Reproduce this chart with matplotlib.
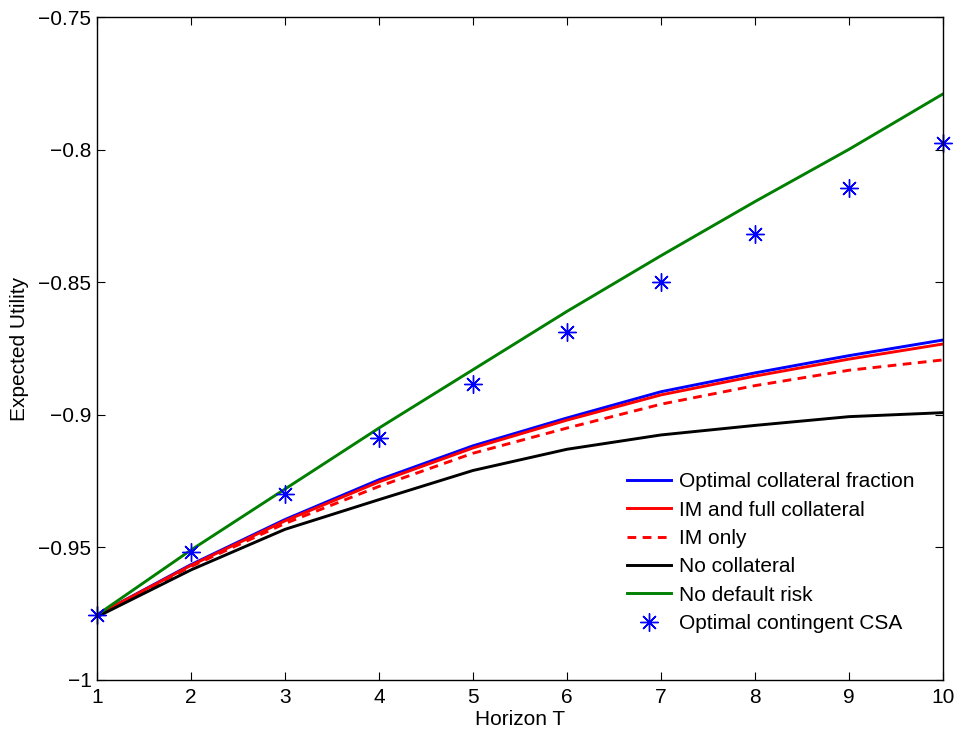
import matplotlib
matplotlib.use("Agg")
from matplotlib import pyplot as plt

plt.rcParams['font.family'] = ['Liberation Sans', 'DejaVu Sans']

# horizon
T = [1, 2, 3, 4, 5, 6, 7, 8, 9, 10]

# expected utility
opt_fraction = [-0.9755, -0.9565, -0.9395, -0.9245, -0.9117, -0.9012, -0.8913, -0.8842, -0.8777, -0.8718]
im_full = [-0.9755, -0.9568, -0.9400, -0.9253, -0.9125, -0.9020, -0.8925, -0.8854, -0.8790, -0.8733]
im_only = [-0.9755, -0.9572, -0.9410, -0.9270, -0.9145, -0.9050, -0.8960, -0.8890, -0.8832, -0.8793]
no_coll = [-0.9762, -0.9585, -0.9432, -0.9320, -0.9210, -0.9130, -0.9076, -0.9040, -0.9007, -0.8992]
no_default = [-0.9755, -0.9510, -0.9280, -0.9050, -0.8830, -0.8610, -0.8400, -0.8196, -0.7999, -0.7790]
contingent = [-0.9755, -0.9518, -0.9299, -0.9086, -0.8884, -0.8687, -0.8500, -0.8318, -0.8144, -0.7974]

fig = plt.figure(figsize=(9.59, 7.34), dpi=100)
ax = fig.add_axes([0.1011, 0.0736, 0.8822, 0.9032])

lw = 2.1
ax.plot(T, opt_fraction, color='#0000ff', lw=lw, label='Optimal collateral fraction')
ax.plot(T, im_full, color='#ff0000', lw=lw, label='IM and full collateral')
ax.plot(T, im_only, color='#ff0000', lw=lw, ls=(0, (3, 2.2)), label='IM only')
ax.plot(T, no_coll, color='black', lw=lw, label='No collateral')
ax.plot(T, no_default, color='#007f00', lw=lw, label='No default risk')
# matlab-style asterisk (8 spokes)
ax.plot(T, contingent, ls='none', marker=(8, 2, 0), color='#0000ff', ms=13,
        markeredgewidth=1.0, label='Optimal contingent CSA', clip_on=False)

ax.set_xlim(1, 10)
ax.set_ylim(-1, -0.75)
ax.set_xticks(T)
ax.set_yticks([-1, -0.95, -0.9, -0.85, -0.8, -0.75])
ax.set_yticklabels(['\u22121', '\u22120.95', '\u22120.9', '\u22120.85', '\u22120.8', '\u22120.75'])
ax.tick_params(direction='in', top=True, right=True, length=6, width=0.8,
               labelsize=15, pad=4)
ax.tick_params(axis='x', pad=6)
for s in ax.spines.values():
    s.set_linewidth(1.0)

ax.set_xlabel('Horizon T', fontsize=15, labelpad=2)
ax.set_ylabel('Expected Utility', fontsize=15, labelpad=7)

leg = ax.legend(loc='lower right', frameon=False, fontsize=15,
                handlelength=2.1, handletextpad=0.4, labelspacing=0.45,
                bbox_to_anchor=(0.989, 0.0425))

fig.savefig('out.png', dpi=100)
